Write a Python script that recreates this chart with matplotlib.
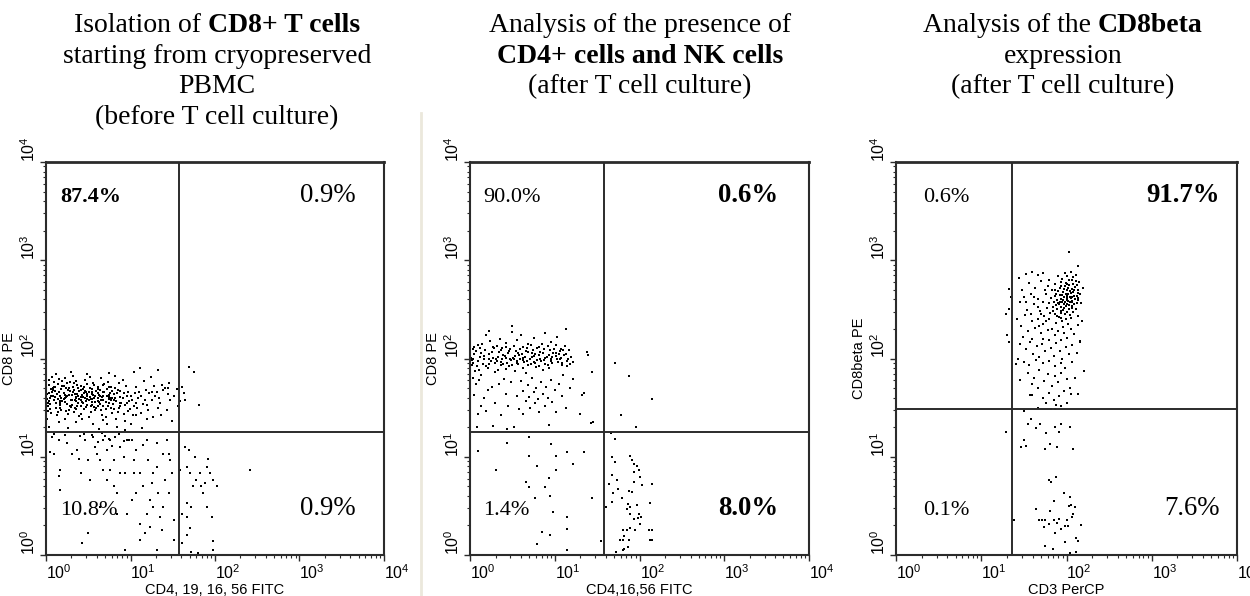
import matplotlib
matplotlib.use("Agg")
import matplotlib.pyplot as plt
from matplotlib.lines import Line2D
import numpy as np

plt.rcParams['font.family'] = ['Liberation Sans', 'DejaVu Sans']
plt.rcParams['mathtext.fontset'] = 'custom'
plt.rcParams['mathtext.rm'] = 'Liberation Sans'
plt.rcParams['mathtext.it'] = 'Liberation Sans:italic'
plt.rcParams['mathtext.bf'] = 'Liberation Sans:bold'

# ---- data (all event coordinates in log10 decades) ----
decades = [0, 1, 2, 3, 4]
x_labels = ['CD4, 19, 16, 56 FITC', 'CD4,16,56 FITC', 'CD3 PerCP']
y_labels = ['CD8 PE', 'CD8 PE', 'CD8beta PE']
gate_x = [1.574, 1.585, 1.357]
gate_y = [1.252, 1.252, 1.483]

# quadrant percentages: (upper-left, upper-right, lower-left, lower-right), bold flags
pct_text = [['87.4%', '0.9%', '10.8%', '0.9%'],
            ['90.0%', '0.6%', '1.4%', '8.0%'],
            ['0.6%', '91.7%', '0.1%', '7.6%']]
pct_bold = [[True, False, False, False],
            [False, True, False, True],
            [False, True, False, False]]

titles = [
    [[('Isolation of', 'normal'), ('CD8+ T cells', 'bold')],
     [('starting from cryopreserved', 'normal')],
     [('PBMC', 'normal')],
     [('(before T cell culture)', 'normal')]],
    [[('Analysis of the presence of', 'normal')],
     [('CD4+ cells and NK cells', 'bold')],
     [('(after T cell culture)', 'normal')]],
    [[('Analysis of the', 'normal'), ('CD8beta', 'bold')],
     [('expression', 'normal')],
     [('(after T cell culture)', 'normal')]],
]

p1_cluster = [
    (0.02,1.52),(0.05,1.60),(0.08,1.68),(0.03,1.73),(0.06,1.45),(0.01,1.38),(0.09,1.58),(0.04,1.65),
    (0.07,1.81),(0.02,1.55),(0.06,1.62),(0.03,1.30),(0.08,1.70),(0.05,1.49),(0.01,1.64),(0.09,1.76),
    (0.12,1.55),(0.15,1.66),(0.18,1.48),(0.11,1.71),(0.14,1.59),(0.17,1.62),(0.19,1.77),(0.13,1.42),
    (0.16,1.53),(0.12,1.84),(0.18,1.69),(0.15,1.35),(0.11,1.61),(0.19,1.57),(0.14,1.74),(0.17,1.50),
    (0.22,1.60),(0.25,1.54),(0.28,1.67),(0.21,1.72),(0.24,1.47),(0.27,1.63),(0.29,1.58),(0.23,1.80),
    (0.26,1.44),(0.21,1.65),(0.28,1.52),(0.25,1.75),(0.22,1.38),(0.27,1.70),(0.24,1.61),(0.29,1.86),
    (0.23,1.56),(0.26,1.29),(0.31,1.58),(0.34,1.64),(0.37,1.52),(0.32,1.71),(0.36,1.60),(0.39,1.67),
    (0.33,1.46),(0.35,1.77),(0.38,1.55),(0.31,1.63),(0.34,1.50),(0.37,1.73),(0.39,1.41),(0.32,1.82),
    (0.36,1.57),(0.33,1.68),(0.38,1.62),(0.35,1.35),(0.41,1.61),(0.44,1.55),(0.47,1.66),(0.42,1.72),
    (0.45,1.49),(0.48,1.59),(0.43,1.63),(0.46,1.78),(0.49,1.53),(0.41,1.44),(0.44,1.69),(0.47,1.57),
    (0.42,1.52),(0.45,1.65),(0.48,1.74),(0.43,1.38),(0.46,1.60),(0.49,1.84),(0.51,1.58),(0.54,1.64),
    (0.57,1.51),(0.52,1.70),(0.55,1.56),(0.58,1.62),(0.53,1.46),(0.56,1.75),(0.59,1.67),(0.51,1.40),
    (0.54,1.53),(0.57,1.60),(0.52,1.81),(0.55,1.66),(0.58,1.48),(0.53,1.59),(0.56,1.33),(0.61,1.60),
    (0.64,1.54),(0.67,1.66),(0.62,1.71),(0.65,1.48),(0.68,1.58),(0.63,1.63),(0.66,1.43),(0.69,1.74),
    (0.61,1.52),(0.64,1.68),(0.67,1.37),(0.62,1.57),(0.65,1.80),(0.68,1.62),(0.63,1.28),(0.71,1.56),
    (0.74,1.63),(0.77,1.50),(0.72,1.69),(0.75,1.59),(0.78,1.45),(0.73,1.76),(0.76,1.65),(0.79,1.54),
    (0.71,1.40),(0.74,1.61),(0.77,1.71),(0.72,1.33),(0.75,1.85),(0.78,1.60),(0.81,1.58),(0.84,1.65),
    (0.87,1.52),(0.82,1.70),(0.85,1.46),(0.88,1.61),(0.83,1.38),(0.86,1.75),(0.89,1.55),(0.81,1.49),
    (0.84,1.30),(0.87,1.67),(0.82,1.82),(0.91,1.60),(0.94,1.53),(0.97,1.66),(0.92,1.44),(0.95,1.72),
    (0.98,1.57),(0.93,1.36),(0.96,1.62),(0.99,1.49),(0.91,1.78),(0.94,1.27),(1.02,1.58),(1.05,1.65),
    (1.08,1.50),(1.03,1.42),(1.06,1.71),(1.09,1.60),(1.01,1.33),(1.04,1.86),(1.07,1.55),(1.12,1.62),
    (1.15,1.54),(1.18,1.68),(1.13,1.45),(1.16,1.77),(1.19,1.38),(1.11,1.90),(1.14,1.29),(1.22,1.65),
    (1.25,1.58),(1.28,1.72),(1.21,1.48),(1.24,1.81),(1.27,1.40),(1.29,1.62),(1.31,1.66),(1.34,1.60),
    (1.37,1.73),(1.33,1.50),(1.36,1.43),(1.39,1.68),(1.32,1.88),(1.41,1.70),(1.44,1.64),(1.47,1.58),
    (1.43,1.48),(1.46,1.75),(1.49,1.36),(1.52,1.62),(1.55,1.69),(1.58,1.57),(1.56,1.52),
    (0.04,1.57),(0.07,1.66),(0.02,1.47),(0.09,1.71),(0.05,1.54),(0.08,1.62),(0.03,1.78),(0.06,1.69),
    (0.01,1.59),(0.13,1.64),(0.16,1.57),(0.19,1.72),(0.12,1.50),(0.15,1.79),(0.18,1.60),(0.14,1.46),
    (0.11,1.67),(0.17,1.55),(0.23,1.63),(0.26,1.68),(0.29,1.51),(0.22,1.56),(0.25,1.62),(0.28,1.76),
    (0.21,1.59),(0.24,1.70),(0.27,1.48),(0.32,1.66),(0.35,1.61),(0.38,1.70),(0.31,1.53),(0.34,1.58),
    (0.37,1.64),(0.33,1.75),(0.36,1.49),(0.39,1.59),(0.42,1.58),(0.45,1.71),(0.48,1.64),(0.41,1.68),
    (0.44,1.61),(0.47,1.51),(0.43,1.56),(0.46,1.67),(0.49,1.62),(0.52,1.61),(0.55,1.69),(0.58,1.56),
    (0.51,1.66),(0.54,1.59),(0.57,1.73),(0.53,1.52),(0.56,1.63),(0.59,1.50),(0.62,1.65),(0.65,1.58),
    (0.68,1.52),(0.61,1.69),(0.64,1.62),(0.67,1.73),(0.63,1.56),(0.66,1.61),(0.69,1.66),(0.72,1.62),
    (0.75,1.55),(0.78,1.67),(0.71,1.49),(0.74,1.71),(0.77,1.58),(0.73,1.52),(0.76,1.60),(0.82,1.60),
    (0.85,1.68),(0.88,1.55),(0.81,1.64),(0.86,1.50),(0.83,1.57),(0.92,1.65),(0.96,1.55),(1.00,1.62),
    (1.04,1.52),(1.10,1.66),(1.17,1.58),(1.26,1.66),(1.35,1.55),(1.44,1.70),(0.97,1.47),(1.06,1.43),
    (1.20,1.53),
]
p1_sparse = [
    (0.05,1.05),(0.07,1.20),(0.15,1.17),(0.17,0.87),(0.15,0.80),(0.17,0.66),(0.41,0.83),(0.50,0.22),
    (0.43,0.12),(0.25,1.14),(0.37,1.07),(0.39,0.98),(0.46,1.17),(0.56,1.20),(0.60,1.03),(0.64,0.97),
    (0.68,0.87),(0.72,0.76),(0.76,1.17),(0.80,0.70),(0.84,0.63),(0.88,1.10),(0.92,1.00),(0.94,0.83),
    (0.96,0.42),(0.98,1.17),(1.02,0.56),(1.04,0.97),(1.07,1.07),(1.11,0.83),(1.11,0.32),(1.15,0.70),
    (1.17,0.22),(1.19,0.42),(1.21,0.97),(1.23,0.56),(1.25,0.73),(1.27,0.49),(1.31,0.90),(1.33,0.63),
    (1.35,0.39),(1.37,0.25),(1.39,1.03),(1.41,0.76),(1.43,1.17),(1.45,0.63),(1.47,0.97),(1.49,0.83),
    (1.51,0.15),(1.51,0.36),(1.45,1.03),(1.31,0.05),(0.94,0.05),(1.11,0.15),(1.23,0.29),(0.76,0.87),
    (0.52,0.76),(0.31,1.03),(0.09,1.03),(0.64,0.49),(0.84,0.42),(1.04,0.83),(1.27,0.83),(1.31,1.14),
    (0.96,1.17),(0.80,0.97),(0.50,0.97),(0.72,1.07),(1.19,1.17),(1.39,0.49),(1.07,0.63),(0.88,0.83),
    (1.02,1.17),(1.15,1.12),(0.82,1.20),(0.68,1.17),(0.55,1.22),(0.62,1.15),(0.70,1.21),(0.78,1.11),
    (0.86,1.23),(0.92,1.16),(0.58,1.10),(0.66,1.24),(0.74,1.18),(0.45,1.23),(0.40,1.21),(0.22,1.22),
    (0.10,1.23),
    (1.65,1.10),(1.69,1.07),(1.67,0.90),(1.70,0.83),(1.74,0.70),(1.76,1.00),(1.78,0.76),(1.82,0.83),
    (1.84,0.70),(1.86,0.63),(1.88,0.73),(1.90,0.90),(1.92,0.98),(1.94,0.83),(2.02,0.70),(1.98,0.76),
    (1.67,0.53),(1.72,0.49),(1.90,0.49),(1.96,0.39),(1.61,0.42),(1.67,0.39),(1.67,0.20),(1.70,0.27),
    (1.61,0.12),(1.98,0.14),(1.98,0.05),(1.80,0.02),(1.72,0.03),(2.41,0.87),(1.59,0.87),
    (1.69,1.91),(1.75,1.86),(1.81,1.53),(1.65,1.58),(1.61,1.71),(1.63,1.65),
]

p2_cluster = [
    (0.02,1.98),(0.05,2.05),(0.08,1.92),(0.03,2.10),(0.06,1.87),(0.01,2.01),(0.09,2.14),(0.04,1.95),
    (0.12,2.02),(0.15,1.94),(0.18,2.09),(0.11,1.88),(0.14,2.15),(0.17,1.99),(0.19,2.24),(0.13,1.83),
    (0.22,2.05),(0.25,1.97),(0.28,2.11),(0.21,1.90),(0.24,2.18),(0.27,2.01),(0.29,1.86),(0.23,2.28),
    (0.31,2.00),(0.34,2.07),(0.37,1.93),(0.32,2.13),(0.36,1.96),(0.39,2.04),(0.33,1.88),(0.35,2.20),
    (0.38,1.99),(0.41,2.03),(0.44,1.95),(0.47,2.10),(0.42,1.89),(0.45,2.06),(0.48,1.98),(0.43,2.16),
    (0.46,1.92),(0.49,2.27),(0.51,2.01),(0.54,2.08),(0.57,1.94),(0.52,2.13),(0.55,1.97),(0.58,2.04),
    (0.53,1.87),(0.56,2.19),(0.59,1.99),(0.50,2.33),(0.61,2.05),(0.64,1.96),(0.67,2.11),(0.62,1.90),
    (0.65,2.02),(0.68,2.15),(0.63,1.98),(0.66,1.85),(0.69,2.07),(0.60,2.24),(0.71,2.00),(0.74,2.09),
    (0.77,1.95),(0.72,2.14),(0.75,2.03),(0.78,1.91),(0.73,2.06),(0.76,2.21),(0.79,1.98),(0.81,2.04),
    (0.84,1.97),(0.87,2.10),(0.82,1.92),(0.85,2.15),(0.88,2.01),(0.83,2.07),(0.86,1.88),(0.89,2.26),
    (0.91,2.02),(0.94,2.09),(0.97,1.95),(0.92,2.13),(0.95,2.00),(0.98,2.06),(0.93,1.90),(0.96,2.17),
    (1.01,2.03),(1.04,1.96),(1.07,2.10),(1.02,2.14),(1.05,2.05),(1.08,1.93),(1.03,2.22),(1.06,1.99),
    (1.11,2.04),(1.14,1.97),(1.17,2.09),(1.12,2.13),(1.15,1.92),(1.19,2.02),(1.13,2.30),(1.21,1.96),
    (0.03,1.80),(0.07,1.74),(0.05,1.63),(0.11,1.78),(0.13,1.52),(0.10,1.44),(0.16,1.60),(0.19,1.47),
    (0.21,1.68),(0.26,1.71),(0.30,1.55),(0.34,1.74),(0.37,1.42),(0.40,1.79),(0.42,1.64),(0.45,1.52),
    (0.48,1.76),(0.52,1.30),(0.55,1.62),(0.58,1.49),(0.60,1.77),(0.62,1.67),(0.66,1.57),(0.68,1.73),
    (0.70,1.61),(0.71,1.50),(0.73,1.80),(0.75,1.66),(0.77,1.55),(0.78,1.70),(0.80,1.59),(0.82,1.46),
    (0.84,1.76),(0.86,1.64),(0.88,1.52),(0.90,1.71),(0.92,1.60),(0.95,1.78),(0.97,1.56),(1.00,1.68),
    (1.02,1.46),(1.05,1.74),(1.08,1.62),(1.10,1.83),(1.13,1.50),(1.18,1.70),(1.22,1.79),(0.08,1.30),
    (0.27,1.31),(0.93,1.32),(0.44,1.28),(0.63,1.44),
    (0.04,2.00),(0.07,2.08),(0.02,1.93),(0.09,1.97),(0.05,2.12),(0.13,2.06),(0.16,1.99),(0.19,1.92),
    (0.12,2.11),(0.17,2.03),(0.23,2.00),(0.26,2.07),(0.29,1.95),(0.22,1.94),(0.27,2.12),(0.33,2.02),
    (0.36,2.09),(0.39,1.94),(0.32,1.97),(0.38,2.11),(0.43,2.01),(0.46,2.08),(0.49,1.93),(0.42,2.12),
    (0.47,1.99),(0.53,2.03),(0.56,1.95),(0.59,2.10),(0.52,1.99),(0.57,2.06),(0.63,2.01),(0.66,2.08),
    (0.69,1.93),(0.62,2.12),(0.67,1.97),(0.73,2.02),(0.76,1.96),(0.79,2.11),(0.72,1.94),(0.77,2.05),
    (0.83,2.00),(0.86,2.06),(0.89,1.94),(0.82,2.12),(0.87,1.98),(0.93,2.04),(0.96,1.97),(0.99,2.10),
    (0.92,1.93),(0.97,2.02),(1.03,2.00),(1.06,2.08),(1.09,1.95),(1.02,2.06),(1.07,2.01),(1.13,2.05),
    (1.16,1.99),(1.10,2.09),(1.18,1.94),
]
p2_sparse = [
    (1.38,2.07),(1.39,2.04),(1.44,1.86),(1.71,1.95),(1.88,1.82),(2.15,1.59),(1.78,1.43),(1.96,1.30),
    (1.32,1.63),(1.34,1.65),(1.30,1.44),(1.43,1.34),(1.45,1.35),
    (0.09,1.06),(0.31,0.87),(0.44,1.14),(0.70,1.20),(0.70,1.01),(0.79,0.91),(0.96,1.13),(1.02,1.01),
    (1.02,0.87),(1.15,1.05),(1.21,0.93),(1.35,1.05),(0.66,0.74),(0.70,0.69),(0.88,0.69),(0.93,0.78),
    (0.94,0.60),(0.77,0.58),(0.98,0.44),(1.15,0.39),(1.15,0.26),(0.85,0.23),(0.94,0.20),(0.79,0.11),
    (1.15,0.05),(1.44,0.58),(1.54,0.14),
    (1.67,1.00),(1.71,0.95),(1.67,0.81),(1.64,0.72),(1.69,0.63),(1.74,0.76),(1.75,0.67),(1.79,0.58),
    (1.67,0.54),(1.89,1.01),(1.91,0.97),(1.94,0.93),(1.97,0.91),(1.99,0.87),(1.93,0.84),(2.01,0.79),
    (2.03,0.71),(1.88,0.65),(1.91,0.64),(1.93,0.74),(1.86,0.52),(1.89,0.49),(1.85,0.47),(1.97,0.51),
    (1.99,0.42),(1.98,0.38),(2.00,0.32),(1.89,0.42),(1.94,0.37),(1.89,0.27),(1.85,0.25),(1.81,0.25),
    (1.95,0.25),(2.02,0.39),(2.12,0.53),(2.15,0.72),(2.11,0.25),(2.12,0.15),(2.15,0.15),(1.82,0.19),
    (1.77,0.15),(1.81,0.15),(1.88,0.15),(1.86,0.08),(1.82,0.06),(1.80,0.05),(1.72,0.03),(2.15,0.25),
    (1.60,0.49),(1.71,1.18),(1.66,1.24),
]

p3_cluster = [
    (1.95,2.65),(2.00,2.70),(2.05,2.62),(1.98,2.58),(2.03,2.75),(2.08,2.68),(1.92,2.72),(2.01,2.55),
    (2.06,2.80),(1.97,2.63),(2.10,2.73),(1.94,2.52),(2.02,2.66),(2.07,2.59),(1.99,2.77),(2.04,2.69),
    (1.96,2.60),(2.12,2.64),(2.00,2.84),(1.93,2.78),(2.09,2.55),(2.14,2.70),(2.15,2.78),(2.11,2.85),
    (2.13,2.60),(2.16,2.66),(2.05,2.88),(1.98,2.87),(1.90,2.84),(1.88,2.66),(1.85,2.58),(1.89,2.50),
    (1.83,2.70),(1.87,2.76),(1.82,2.62),(1.86,2.45),(1.91,2.42),(1.95,2.38),(2.00,2.47),(2.04,2.44),
    (1.94,2.46),(1.97,2.51),(2.03,2.50),(2.08,2.47),(1.99,2.40),(1.84,2.52),(1.80,2.80),(1.78,2.74),
    (1.81,2.46),(1.90,2.56),(2.06,2.53),(2.11,2.50),(2.17,2.56),(2.19,2.72),(2.13,2.43),(1.96,2.32),
    (2.02,2.35),(1.88,2.36),(1.79,2.56),(1.76,2.66),
    (1.44,2.82),(1.48,2.70),(1.52,2.86),(1.56,2.77),(1.60,2.88),(1.63,2.72),(1.67,2.85),(1.70,2.79),
    (1.73,2.87),(1.75,2.70),(1.46,2.58),(1.50,2.63),(1.54,2.49),(1.58,2.66),(1.62,2.55),(1.66,2.61),
    (1.69,2.48),(1.72,2.57),(1.74,2.43),(1.77,2.51),(1.42,2.40),(1.47,2.33),(1.51,2.44),(1.55,2.28),
    (1.59,2.38),(1.63,2.31),(1.67,2.40),(1.70,2.26),(1.73,2.35),(1.78,2.29),(1.83,2.30),(1.86,2.24),
    (1.90,2.28),(1.93,2.19),(1.97,2.26),(2.01,2.21),(2.05,2.30),(2.09,2.25),(2.14,2.34),(2.18,2.38),
    (1.45,2.15),(1.49,2.22),(1.53,2.10),(1.57,2.17),(1.61,2.05),(1.65,2.13),(1.68,2.02),(1.71,2.15),
    (1.75,2.08),(1.79,2.19),(1.82,2.11),(1.85,2.03),(1.88,2.16),(1.92,2.08),(1.95,2.00),(1.99,2.12),
    (2.03,2.05),(2.07,2.14),(2.12,2.06),(2.16,2.18),(1.43,2.00),(1.50,1.96),(1.56,1.93),(1.64,1.98),
    (1.72,1.95),(1.80,1.97),(1.87,1.92),(1.93,1.95),(1.98,1.90),(2.06,1.96),
    (1.55,1.85),(1.62,1.80),(1.68,1.88),(1.74,1.77),(1.78,1.84),(1.83,1.72),(1.86,1.82),(1.90,1.76),
    (1.94,1.85),(2.00,1.79),(2.04,1.70),(1.97,1.67),(1.91,1.62),(1.85,1.58),(1.79,1.65),(1.73,1.60),
    (1.66,1.70),(1.59,1.74),(1.88,1.53),(1.82,1.49),(1.94,1.52),(2.10,1.80),(1.76,1.55),
    (1.96,2.68),(2.01,2.62),(2.06,2.71),(1.99,2.66),(2.04,2.58),(2.09,2.64),(1.93,2.61),(1.98,2.74),
    (2.03,2.80),(2.08,2.76),(2.13,2.67),(1.90,2.69),(1.95,2.57),(2.00,2.60),(2.05,2.67),(2.10,2.61),
    (1.92,2.65),(1.97,2.71),(2.02,2.72),(2.07,2.63),(2.12,2.75),(1.89,2.60),(1.94,2.74),(1.99,2.53),
    (2.04,2.63),(2.09,2.70),(2.14,2.62),(1.91,2.55),(1.96,2.49),(2.01,2.76),(2.06,2.57),(2.11,2.79),
    (1.87,2.70),(1.92,2.58),(1.97,2.55),(2.02,2.59),(2.07,2.51),(2.12,2.56),(1.88,2.54),(1.93,2.48),
    (1.98,2.45),(2.03,2.54),(2.08,2.83),(2.00,2.64),(1.95,2.81),(1.86,2.64),(1.84,2.48),(1.89,2.43),
    (1.94,2.41),(2.05,2.41),(1.70,2.45),(1.66,2.52),(1.62,2.63),(1.58,2.45),(1.53,2.58),(1.76,2.38),
    (1.80,2.40),(1.73,2.20),(1.68,2.33),(1.60,2.20),
]
p3_sparse = [
    (2.03,3.08),(2.14,2.94),(1.33,2.71),(1.35,2.63),(1.29,2.45),(1.32,2.50),(1.30,2.24),(1.33,2.17),
    (1.41,1.94),(1.46,1.78),(1.57,1.63),(1.60,1.63),(2.21,1.87),(2.16,2.17),(2.13,1.64),(2.05,1.64),
    (1.67,1.50),(1.87,1.49),(2.01,1.55),
    (1.50,1.47),(1.58,1.38),(1.55,1.33),(1.64,1.29),(1.69,1.33),(1.86,1.30),(1.94,1.33),(2.04,1.30),
    (1.91,1.25),(1.29,1.25),(1.50,1.17),(1.47,1.10),(1.53,1.11),(1.75,1.08),(1.81,1.13),(1.89,1.10),
    (2.08,1.08),(1.76,1.24),
    (1.79,0.76),(1.82,0.74),(1.88,0.79),(1.97,0.63),(2.04,0.59),(2.03,0.50),(2.05,0.51),(1.85,0.55),
    (1.64,0.47),(1.68,0.36),(1.71,0.36),(1.75,0.36),(1.81,0.45),(1.85,0.36),(1.80,0.32),(1.74,0.28),
    (1.89,0.33),(1.93,0.26),(1.98,0.30),(2.01,0.36),(2.07,0.39),(2.10,0.49),(2.08,0.42),(2.17,0.31),
    (2.02,0.30),(1.75,0.09),(1.84,0.06),(1.98,0.13),(2.11,0.17),(2.13,0.14),(2.11,0.03),(1.39,0.36),
    (1.91,0.37),(1.87,0.22),(2.04,0.02),
]
events = [p1_cluster + p1_sparse, p2_cluster + p2_sparse, p3_cluster + p3_sparse]

# ---- layout ----
W, H = 1250, 596
fig = plt.figure(figsize=(W / 100, H / 100), dpi=100)
axes_px = [(46, 338), (470, 339), (896, 341)]   # left, width in pixels
ax_bottom, ax_height = 41, 393
title_cx = [217, 640, 1063]
title_base = [32, 63, 93, 124]
pct_pos = [  # x of left labels, x of right labels (axes fraction)
    (0.041, 0.917), (0.038, 0.909), (0.079, 0.948)]

dark = '#2b2b2b'
ticks = [10.0 ** d for d in decades]
tick_labels = [r'$10^{%d}$' % d for d in decades]

for i in range(3):
    left, width = axes_px[i]
    ax = fig.add_axes([left / W, ax_bottom / H, width / W, ax_height / H])
    ax.set_xscale('log')
    ax.set_yscale('log')
    ax.set_xlim(1, 1e4)
    ax.set_ylim(1, 1e4)

    pts = np.array(events[i])
    ax.scatter(10 ** pts[:, 0], 10 ** pts[:, 1], s=4, marker='s', color='black',
               linewidths=0, zorder=2)
    ax.axvline(10 ** gate_x[i], color=dark, lw=1.4, zorder=3)
    ax.axhline(10 ** gate_y[i], color=dark, lw=1.4, zorder=3)

    for name, sp in ax.spines.items():
        sp.set_color(dark)
        sp.set_linewidth(2.0 if name == 'top' else 1.5)

    ax.set_xticks(ticks)
    ax.set_yticks(ticks)
    ax.set_xticklabels(tick_labels, ha='left', fontsize=11.5)
    ax.set_yticklabels(tick_labels, rotation=90, va='bottom', fontsize=11.5)
    ax.tick_params(which='major', direction='out', length=4, width=1, color=dark, pad=2)
    ax.tick_params(which='minor', direction='out', length=2, width=0.8, color=dark)
    ax.set_xlabel(x_labels[i], fontsize=10.5, labelpad=1)
    ax.set_ylabel(y_labels[i], fontsize=10.5, labelpad=2)

    xl, xr = pct_pos[i]
    for k in range(4):
        right = k in (1, 3)
        upper = k in (0, 1)
        ax.text(xr if right else xl, 0.898 if upper else 0.102, pct_text[i][k],
                transform=ax.transAxes, ha='right' if right else 'left', va='baseline',
                family='Liberation Serif', fontsize=19.3 if right else 16,
                fontweight='bold' if pct_bold[i][k] else 'normal', zorder=4)

# ---- titles with mixed weights ----
renderer = fig.canvas.get_renderer()
title_size = 20
space_px = 0.25 * title_size * 100 / 72
for i, lines in enumerate(titles):
    for j, segs in enumerate(lines):
        parts = [fig.text(0, 0, s, fontsize=title_size, fontweight=w,
                          family='Liberation Serif', va='baseline') for s, w in segs]
        widths = [t.get_window_extent(renderer).width for t in parts]
        total = sum(widths) + space_px * (len(parts) - 1)
        x = title_cx[i] - total / 2
        for t, w in zip(parts, widths):
            t.set_position((x / W, 1 - title_base[j] / H))
            x += w + space_px

# faint separator line left of the middle panel
fig.add_artist(Line2D([421 / W, 421 / W], [0, 1 - 113 / H], color='#ebe8dc', lw=2))

fig.savefig('out.png', dpi=100)
